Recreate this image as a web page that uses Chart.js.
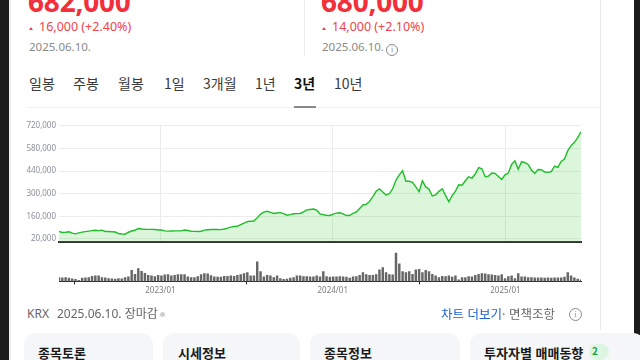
<!DOCTYPE html>
<html lang="ko"><head><meta charset="utf-8">
<script src="https://cdn.jsdelivr.net/npm/chart.js@4.4.1/dist/chart.umd.min.js"></script>
<style>
*{box-sizing:border-box}
html,body{margin:0;padding:0;width:640px;height:360px;overflow:hidden;background:#fff;font-family:"Noto Sans CJK KR","Noto Sans",sans-serif;}
.a{position:absolute;white-space:nowrap;line-height:1;}
.big{font-size:28px;font-weight:700;color:#f2303c;letter-spacing:-0.2px;font-family:"Noto Sans","Noto Sans CJK KR",sans-serif}
.chg{font-size:12.5px;color:#f0434e;font-family:"Noto Sans","Noto Sans CJK KR",sans-serif}
.dt{font-size:11.5px;color:#8a8a8a;font-family:"Noto Sans","Noto Sans CJK KR",sans-serif}
.tri{width:0;height:0;border-left:2.8px solid transparent;border-right:2.8px solid transparent;border-bottom:3.6px solid #f0434e}
.tab{font-size:14px;color:#3a3a3a}
.info{width:11px;height:11px;border:1px solid #8a8a8a;border-radius:50%;font-size:8px;color:#8a8a8a;text-align:center;line-height:9px;font-family:"Liberation Serif",serif}
.card{background:#f5f6f8;border-radius:12px;height:60px}
.ct{font-size:13px;font-weight:700;color:#1a1a1a}
</style></head><body>
<div class="a" style="left:0;top:0;width:9px;height:360px;background:#1c1c1c"></div>
<div class="a" style="left:9px;top:0;width:2px;height:360px;background:#eeeeee"></div>
<div class="a" style="left:634px;top:0;width:6px;height:360px;background:#1c1c1c"></div>
<div class="a" style="left:600px;top:0;width:1px;height:330px;background:#e8e8e8"></div>
<div class="a" style="left:304px;top:0;width:1px;height:56px;background:#ececec"></div>

<div class="a big" style="left:28px;top:-13px">682,000</div>
<div class="a tri" style="left:29px;top:26.5px"></div>
<div class="a chg" style="left:39px;top:21px">16,000 (+2.40%)</div>
<div class="a dt" style="left:29px;top:41px">2025.06.10.</div>

<div class="a big" style="left:321px;top:-13px">680,000</div>
<div class="a tri" style="left:322px;top:26.5px"></div>
<div class="a chg" style="left:332px;top:21px">14,000 (+2.10%)</div>
<div class="a dt" style="left:322px;top:41px">2025.06.10.</div>
<div class="a info" style="left:386px;top:43.5px;width:12px;height:12px;line-height:10px">i</div>

<div class="a tab" style="left:29px;top:76px">일봉</div>
<div class="a tab" style="left:73px;top:76px">주봉</div>
<div class="a tab" style="left:118px;top:76px">월봉</div>
<div class="a tab" style="left:164px;top:76px">1일</div>
<div class="a tab" style="left:203px;top:76px">3개월</div>
<div class="a tab" style="left:255px;top:76px">1년</div>
<div class="a tab" style="left:294px;top:76px;font-weight:700;color:#111">3년</div>
<div class="a tab" style="left:334px;top:76px">10년</div>
<div class="a" style="left:27px;top:107px;width:573px;height:1px;background:#f0f0f0"></div>
<div class="a" style="left:294px;top:106px;width:22px;height:2px;background:#888"></div>

<canvas id="cLine" width="590" height="132" style="position:absolute;left:0;top:118px"></canvas>
<canvas id="cVol" width="590" height="49" style="position:absolute;left:0;top:249px"></canvas>

<div class="a dt" style="left:27px;top:308px;color:#666;font-size:12px">KRX</div>
<div class="a dt" style="left:57px;top:308px;color:#666;font-size:12px">2025.06.10. 장마감</div>
<div class="a" style="left:160px;top:312px;width:5px;height:5px;border-radius:50%;background:#d0d0d0"></div>
<div class="a" style="left:441px;top:307.5px;font-size:12.5px;color:#1f5fd0">차트 더보기</div>
<div class="a" style="left:502px;top:307.5px;font-size:12.5px;color:#666">· 면책조항</div>
<div class="a info" style="left:569px;top:308px;width:13px;height:13px;line-height:11px">i</div>

<div class="a card" style="left:24px;top:333px;width:129px"></div>
<div class="a card" style="left:163px;top:333px;width:137px"></div>
<div class="a card" style="left:310px;top:333px;width:150px"></div>
<div class="a card" style="left:470px;top:333px;width:175px"></div>
<div class="a ct" style="left:38px;top:346px">종목토론</div>
<div class="a ct" style="left:178px;top:346px">시세정보</div>
<div class="a ct" style="left:324px;top:346px">종목정보</div>
<div class="a ct" style="left:484px;top:346px">투자자별 매매동향</div>
<div class="a" style="left:589px;top:344px;width:20px;height:16px;border-radius:8px;background:#dff5e3;color:#1aa34a;font-size:10px;font-weight:700;padding:2px 0 0 3px">2</div>

<script>
// ---- data ----
const startDate = '2022-05-31';           // first weekly point; one point per week
const closes = [
 66000,60000,61500,64400,56400,51700,57500,62700,65500,68400,
 71300,73600,71900,74700,66100,66000,65000,63000,54000,51000,
 49500,61500,69000,74000,85000,81600,80000,79400,79400,79000,
 75300,75300,70000,68400,69600,70000,70000,70000,75300,72000,
 68000,66700,66000,68000,74700,77000,78800,79400,78800,77600,
 81600,86800,93000,97000,98300,108700,118500,127000,130000,131100,
 150600,173600,186300,191000,185000,177700,181000,183000,177000,167300,
 170800,176000,177000,177700,188000,200000,202400,205000,198000,175000,
 169600,166700,165600,174000,180000,182000,175000,165000,165600,177700,
 187500,208700,230000,234000,252400,282300,315000,330000,310500,292000,
 299600,330600,384700,416900,441600,376600,376600,370900,342000,313000,
 379500,342000,327700,285800,293000,314500,330600,290000,250000,287500,
 316000,355000,352500,380000,404000,396700,421500,461000,454000,405000,
 409000,428000,425000,407000,388000,417000,428000,481000,503000,451000,
 497000,492800,481000,446800,425000,450000,448500,434000,432000,437000,
 470000,463000,500000,514600,566000,597000,618000,647000,682000
];
const volumes = [ // thousand shares
 400,370,400,330,270,200,100,330,370,400,
 530,570,570,400,370,300,270,230,300,270,
 400,470,1130,730,1300,1030,830,630,570,500,
 630,570,670,700,570,630,700,700,700,470,
 400,400,500,700,800,770,600,470,430,430,
 530,530,570,530,630,700,800,900,570,570,
 2000,1000,470,630,570,400,570,300,200,230,
 330,400,570,570,500,500,470,470,570,470,
 1000,500,430,470,470,500,470,430,330,470,
 500,630,900,700,630,630,700,1170,1400,900,
 700,670,2900,1800,1000,900,1000,730,1170,1230,
 900,1130,1000,730,570,400,530,500,570,430,
 570,170,400,400,500,470,630,730,800,770,
 700,670,630,570,700,300,500,570,300,800,
 470,470,400,400,370,370,370,330,370,330,
 370,370,370,430,900,570,370,230,170
];
const yTickValues = [20000,160000,300000,440000,580000,720000];
const xTickDates = ['2023-01-01','2024-01-01','2025-01-01'];
const xTickLabels = ['2023/01','2024/01','2025/01'];

// ---- helpers ----
const DAY = 86400000;
const t0 = Date.parse(startDate + 'T00:00:00Z');
const dayOf = s => Math.round((Date.parse(s + 'T00:00:00Z') - t0) / DAY);
const weekDays = closes.map((_, i) => i * 7);
const lastDay = weekDays[weekDays.length - 1];
const xTicks = xTickDates.map(dayOf);
const labelFor = v => { const k = xTicks.indexOf(v); return k >= 0 ? xTickLabels[k] : ''; };

Chart.defaults.font.family = '"Noto Sans", sans-serif';

new Chart(document.getElementById('cLine'), {
  type: 'line',
  data: { datasets: [{
    data: closes.map((c, i) => ({ x: weekDays[i], y: c })),
    borderColor: '#1fbe28', borderWidth: 1.4,
    backgroundColor: 'rgba(45,200,45,0.17)', fill: 'origin',
    pointRadius: 0, tension: 0
  }]},
  options: {
    responsive: false, animation: false, devicePixelRatio: 1,
    layout: { padding: { left: 0, right: 9, top: 6, bottom: 1 } },
    plugins: { legend: { display: false }, tooltip: { enabled: false } },
    scales: {
      x: {
        type: 'linear', min: 0, max: lastDay,
        afterBuildTicks: s => { s.ticks = xTicks.map(v => ({ value: v })); },
        ticks: { display: false },
        grid: { color: '#ebebeb', drawTicks: false, lineWidth: 1 },
        border: { display: true, color: '#333333', width: 2 }
      },
      y: {
        min: 0, max: 720000,
        afterBuildTicks: s => { s.ticks = yTickValues.map(v => ({ value: v })); },
        afterFit: s => { s.width = 59; },
        ticks: { font: { size: 8 }, color: '#8a8f98', padding: 3,
                 callback: v => v.toLocaleString('en-US') },
        grid: { color: '#ececec', drawTicks: false, lineWidth: 1 },
        border: { display: false }
      }
    }
  }
});

new Chart(document.getElementById('cVol'), {
  type: 'bar',
  data: { datasets: [{
    data: volumes.map((v, i) => ({ x: weekDays[i], y: v })),
    backgroundColor: '#666666', barThickness: 1.8, borderWidth: 0
  }]},
  options: {
    responsive: false, animation: false, devicePixelRatio: 1,
    layout: { padding: { left: 59, right: 9, top: 3, bottom: 0 } },
    plugins: { legend: { display: false }, tooltip: { enabled: false } },
    scales: {
      x: {
        type: 'linear', min: 0, max: lastDay, offset: false,
        afterBuildTicks: s => { s.ticks = xTicks.map(v => ({ value: v })); },
        ticks: { font: { size: 8 }, color: '#7c7c7c', padding: 2, maxRotation: 0,
                 autoSkip: false, callback: v => labelFor(v) },
        grid: { drawOnChartArea: false, drawTicks: true, tickLength: 3, color: '#222' },
        border: { display: true, color: '#222222', width: 1 }
      },
      y: { display: false, min: 0, max: 3000 }
    }
  }
});
</script>
</body></html>
